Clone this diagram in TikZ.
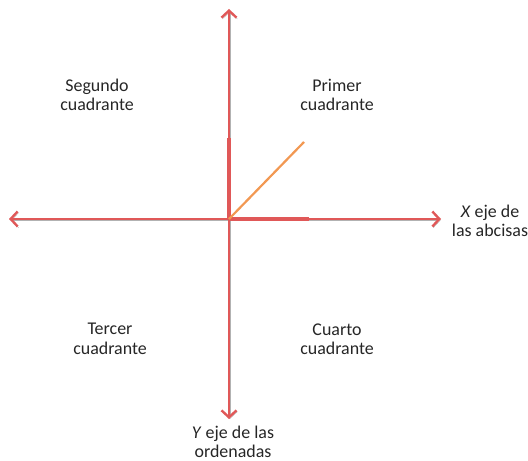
\documentclass[tikz,border=0pt]{standalone}
\usepackage{fontspec}
\setmainfont{Carlito}
\usetikzlibrary{arrows.meta}
\definecolor{axisred}{RGB}{224,88,88}
\definecolor{vecorange}{RGB}{242,152,82}

\begin{document}
\begin{tikzpicture}[x=1bp,y=-1bp,
    axis/.style={draw=axisred,line width=2.4bp,
        {Straight Barb[length=7bp,width=15bp]}-{Straight Barb[length=7bp,width=15bp]},
        preaction={draw=black!30,transform canvas={shift={(0.9bp,-1.3bp)}}}},
    thick part/.style={draw=axisred,line width=4bp},
    quadtext/.style={align=center,inner sep=1bp,text=black!85,font=\fontsize{18}{19.5}\selectfont}]
        \useasboundingbox (0,0) rectangle (528,461);
        \coordinate (O) at (229,219);
        \coordinate (L) at (9,219);
        \coordinate (R) at (441,219);
        \coordinate (T) at (229,9);
        \coordinate (B) at (229,419);
        \coordinate (Y1) at (229,138);
        \coordinate (X1) at (309,219);
        \coordinate (P) at (304,142);
        \path [axis] (L) -- (R);
        \path [axis] (T) -- (B);
        \path [thick part] (O) -- (Y1);
        \path [thick part] (O) -- (X1);
        \path [draw=vecorange,line width=2.2bp] (O) -- (P);
        \node[quadtext] (II) at (97,95) {Segundo\\cuadrante};
        \node[quadtext] (I) at (337,95) {Primer\\cuadrante};
        \node[quadtext] (III) at (110,339) {Tercer\\cuadrante};
        \node[quadtext] (IV) at (337,339) {Cuarto\\cuadrante};
        \node[quadtext] (XL) at (490,221) {\textit{X} eje de\\las abcisas};
        \node[quadtext] (YL) at (233,442) {\textit{Y} eje de las\\ordenadas};
    \end{tikzpicture}
\end{document}
